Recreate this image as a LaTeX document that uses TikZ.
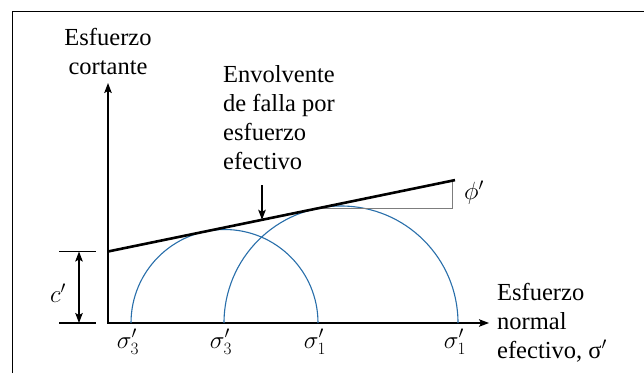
\documentclass[tikz,border=0pt]{standalone}
\usepackage{fontspec}
\setmainfont{Liberation Serif}
\usetikzlibrary{positioning,calc,arrows.meta}
\definecolor{mohrblue}{RGB}{40,110,170}
\definecolor{guidegray}{RGB}{125,125,125}
\tikzset{lbl/.style={draw=none,inner sep=0pt,font=\fontsize{24.5}{29}\selectfont},
         circ/.style={draw=mohrblue,line width=1.1pt},
         env/.style={line width=2.6pt},
         guide/.style={draw=guidegray,line width=0.9pt},
         tick/.style={line width=1.1pt}
}
\tikzstyle{arrow} = [line width=1.4pt,->,>={Stealth[length=10pt,width=7.5pt,inset=2pt]}]

\begin{document}
\begin{tikzpicture}[x=1pt,y=1pt]
\useasboundingbox (0,0) rectangle (644,373);
\draw[line width=1.8pt] (12.5,0) |- (644,361.5);

% axes
\coordinate (O) at (108,50);
\coordinate (ytip) at (108,290);
\coordinate (xtip) at (489,50);
\draw[arrow,<->] (ytip) |- (xtip);

% Mohr circles
\coordinate (s3a) at (131,50);
\coordinate (s3b) at (224,50);
\coordinate (s1a) at (318,50);
\coordinate (s1b) at (458,50);
\draw[circ] (s1a) arc[start angle=0,end angle=180,radius=93.5];
\draw[circ] (s1b) arc[start angle=0,end angle=180,radius=117];

% envelope and angle
\coordinate (envA) at (108,121.5);
\coordinate (envB) at (455,192.9);
\coordinate (tanB) at (317.4,164.6);
\coordinate (phiC) at (452,164.6);
\coordinate (phiT) at (452,192.3);
\draw[guide] (tanB) -- (phiC) -- (phiT);
\draw[env] (envA) -- (envB);

% cohesion
\coordinate (cT1) at (59,121.5);
\coordinate (cT2) at (96,121.5);
\coordinate (cB1) at (59,50);
\coordinate (cB2) at (96,50);
\coordinate (cA) at (79,121.5);
\coordinate (cZ) at (79,50);
\draw[tick] (cT1) -- (cT2);
\draw[tick] (cB1) -- (cB2);
\draw[arrow,<->] (cA) -- (cZ);
\node[lbl] (cl) at (58,80) {$c'$};

% labels
\node[lbl,align=center,above=8pt of ytip] (ylab) {Esfuerzo\\cortante};
\node[lbl,align=left,right=8pt of xtip] (xlab) {Esfuerzo\\normal\\efectivo, σ$'$};
\node[lbl,align=left,anchor=north west] (envtxt) at (223,308) {Envolvente\\de falla por\\esfuerzo\\efectivo};
\node[lbl,anchor=west] (phil) at (464,180) {$\phi'$};
\node[lbl,anchor=base] (l3a) at ($(s3a)+(-3,-25)$) {$\sigma'_3$};
\node[lbl,anchor=base] (l3b) at ($(s3b)+(-3,-25)$) {$\sigma'_3$};
\node[lbl,anchor=base] (l1a) at ($(s1a)+(-3,-25)$) {$\sigma'_1$};
\node[lbl,anchor=base] (l1b) at ($(s1b)+(-3,-25)$) {$\sigma'_1$};

% pointer
\coordinate (ptr) at (262,188);
\coordinate (ptrTip) at (262,153.2);
\draw[arrow] (ptr) -- (ptrTip);

\end{tikzpicture}
\end{document}
